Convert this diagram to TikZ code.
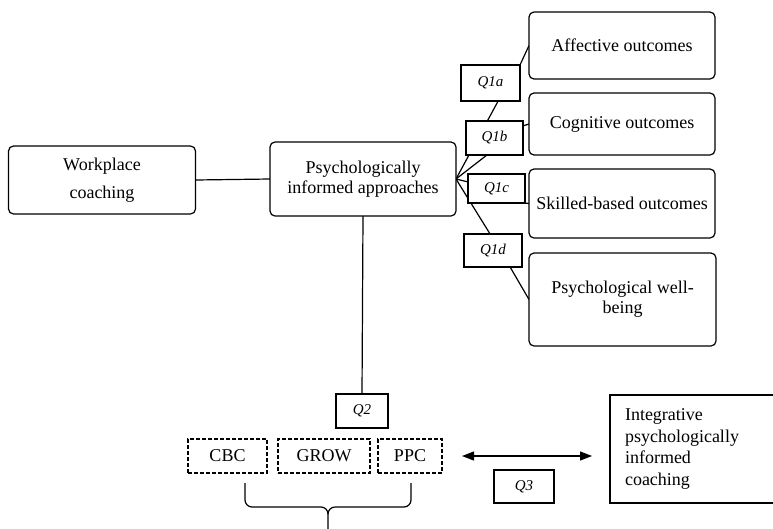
\documentclass[tikz,border=0pt]{standalone}
\usepackage{fontspec}
\setmainfont{Liberation Serif}
\usetikzlibrary{arrows.meta,backgrounds}

\begin{document}
\begin{tikzpicture}[x=1pt, y=-1pt, line width=1.2pt, font=\fontsize{18}{20}\selectfont,
  box/.style = {draw, rounded corners=5pt, fill=white, align=center, inner sep=0pt, outer sep=0pt},
  qbox/.style = {draw, fill=white, inner sep=0pt, outer sep=0pt, font=\fontsize{15}{17}\selectfont\itshape},
  method/.style = {draw, dash pattern=on 4pt off 2pt, minimum height=34pt, inner sep=0pt, outer sep=0pt},
  link/.style = {line width=1.2pt}]
  \useasboundingbox (0,0) rectangle (773,528);
  \clip (0,0) rectangle (773,528);

  \node[box, minimum width=187pt, minimum height=68pt, font=\fontsize{18}{28}\selectfont] (work) at (102,180) {Workplace\\coaching};
  \node[box, minimum width=186pt, minimum height=74pt] (psych) at (363,179) {Psychologically\\informed approaches};
  % outcomes
  \node[box, minimum width=186pt, minimum height=67pt] (affect) at (622,45.5) {Affective outcomes};
  \node[box, minimum width=186pt, minimum height=62pt] (cogn) at (622,124) {Cognitive outcomes};
  \node[box, minimum width=186pt, minimum height=69pt] (skill) at (622,203.5) {Skilled-based outcomes};
  \node[box, minimum width=187pt, minimum height=93pt] (wellb) at (622.5,299.5) {Psychological well-\\being};
  % questions
  \node[qbox, minimum width=59pt, minimum height=36pt] (q1a) at (490.5,83) {Q1a};
  \node[qbox, minimum width=57pt, minimum height=34pt] (q1b) at (494.5,138) {Q1b};
  \node[qbox, minimum width=57pt, minimum height=29pt] (q1c) at (496.5,188.5) {Q1c};
  \node[qbox, minimum width=58pt, minimum height=33pt] (q1d) at (493,250.5) {Q1d};
  \node[qbox, minimum width=52pt, minimum height=34pt] (q2) at (362,411) {Q2};
  \node[qbox, minimum width=60pt, minimum height=33pt] (q3) at (524,486.5) {Q3};
  % approaches
  \node[method, minimum width=79pt] (cbc) at (227.5,456) {CBC};
  \node[method, minimum width=92pt] (grow) at (324,456) {GROW};
  \node[method, minimum width=64pt] (ppc) at (410,456) {PPC};
  \node[draw, fill=white, align=left, text width=160pt, inner xsep=15pt, inner ysep=0pt, outer sep=0pt,
    minimum height=108pt, font=\fontsize{18}{21.7}\selectfont] (integ) at (705,449)
    {Integrative\\psychologically\\informed\\coaching};

  \begin{scope}[on background layer]
    \draw[link] (work.east) -- (psych.west);
    \draw[link] (psych.east) -- (q1a.-67);
    \draw[link] (q1a.north east) -- (affect.west);
    \draw[link] (psych.east) -- (q1b.-114);
    \draw[link] (q1b.23) -- (cogn.west);
    \draw[link] (psych.east) -- (q1c.167);
    \draw[link] (q1c.south east) -- (skill.west);
    \draw[link] (psych.east) -- (q1d.100);
    \draw[link] (q1d.-44) -- (wellb.west);
    \draw[link] (psych.south) -- (q2.north);
  \end{scope}

  \draw[{Triangle[length=12pt,width=9pt]}-{Triangle[length=12pt,width=9pt]}, shorten <=20pt, shorten >=18pt]
    (ppc.east) -- (ppc.east -| integ.west);

  % brace under the approaches
  \coordinate (bl) at (245,483);
  \coordinate (br) at (411,483);
  \coordinate (tip) at (328,514);
  \draw (bl) -- (245,500) to[out=-90,in=180] (252,507) -- (321,507) to[out=0,in=90] (tip) -- (328,535);
  \draw (br) -- (411,500) to[out=-90,in=0] (404,507) -- (335,507) to[out=180,in=90] (tip);
\end{tikzpicture}
\end{document}
